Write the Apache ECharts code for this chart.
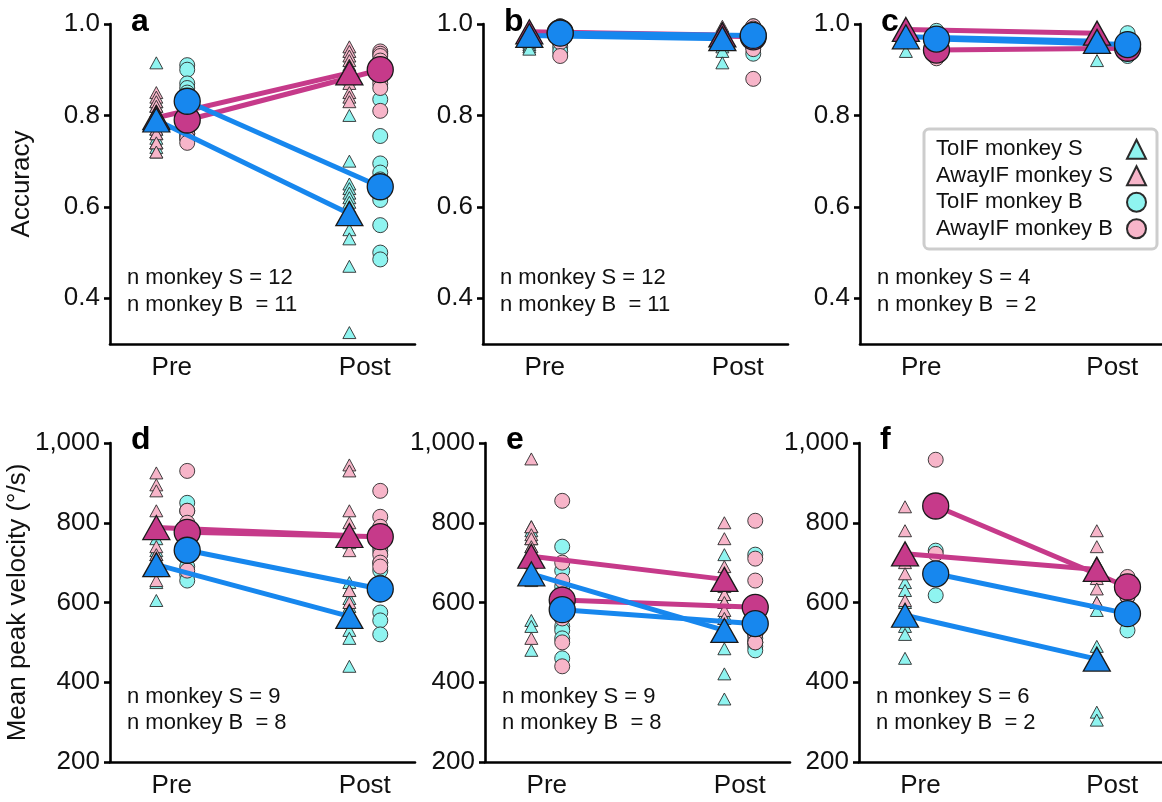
<!DOCTYPE html>
<html>
<head>
<meta charset="utf-8">
<title>Accuracy and peak velocity, Pre vs Post</title>
<script src="https://cdn.jsdelivr.net/npm/echarts@6/dist/echarts.min.js"></script>
<style>
  html, body { margin: 0; padding: 0; background: #ffffff; }
  #chart { width: 1162px; height: 802px; }
</style>
</head>
<body>
<div id="chart"></div>
<script>
// ---- Labels ----
const GROUP_NAMES = ['ToIF monkey S', 'AwayIF monkey S', 'ToIF monkey B', 'AwayIF monkey B'];
const TIME_LABELS = ['Pre', 'Post'];
const ACC_TICKS = [0.4, 0.6, 0.8, 1.0];

// ---- Panel a: accuracy ----
const aToIFS  = { pre: [0.915, 0.83, 0.82, 0.80, 0.78, 0.77, 0.76, 0.75, 0.74, 0.74, 0.73, 0.72],
                  post: [0.80, 0.70, 0.65, 0.64, 0.63, 0.62, 0.61, 0.60, 0.55, 0.53, 0.47, 0.325],
                  mean: [0.79, 0.585] };
const aAwayS  = { pre: [0.85, 0.84, 0.83, 0.82, 0.81, 0.80, 0.79, 0.78, 0.77, 0.76, 0.74, 0.72],
                  post: [0.95, 0.94, 0.93, 0.92, 0.91, 0.90, 0.89, 0.88, 0.87, 0.85, 0.84, 0.83],
                  mean: [0.795, 0.893] };
const aToIFB  = { pre: [0.91, 0.90, 0.87, 0.86, 0.85, 0.84, 0.82, 0.80, 0.77, 0.76, 0.75],
                  post: [0.835, 0.755, 0.695, 0.675, 0.66, 0.645, 0.63, 0.615, 0.56, 0.50, 0.485],
                  mean: [0.831, 0.644] };
const aAwayB  = { pre: [0.84, 0.83, 0.82, 0.81, 0.80, 0.79, 0.78, 0.77, 0.76, 0.75, 0.74],
                  post: [0.94, 0.935, 0.93, 0.92, 0.91, 0.90, 0.89, 0.88, 0.87, 0.86, 0.81],
                  mean: [0.79, 0.90] };

// ---- Panel b: accuracy ----
const bToIFS  = { pre: [0.99, 0.985, 0.98, 0.98, 0.975, 0.97, 0.97, 0.965, 0.96, 0.955, 0.95, 0.945],
                  post: [0.99, 0.985, 0.98, 0.975, 0.97, 0.97, 0.965, 0.96, 0.955, 0.95, 0.94, 0.915],
                  mean: [0.975, 0.968] };
const bAwayS  = { pre: [0.995, 0.99, 0.99, 0.985, 0.985, 0.98, 0.98, 0.98, 0.975, 0.975, 0.97, 0.965],
                  post: [0.995, 0.99, 0.99, 0.985, 0.98, 0.98, 0.975, 0.975, 0.97, 0.97, 0.965, 0.96],
                  mean: [0.983, 0.976] };
const bToIFB  = { pre: [0.995, 0.99, 0.99, 0.985, 0.98, 0.98, 0.975, 0.97, 0.96, 0.95, 0.94],
                  post: [0.995, 0.99, 0.99, 0.985, 0.98, 0.98, 0.975, 0.97, 0.965, 0.95, 0.935],
                  mean: [0.98, 0.975] };
const bAwayB  = { pre: [0.995, 0.99, 0.99, 0.985, 0.985, 0.98, 0.98, 0.975, 0.97, 0.96, 0.93],
                  post: [0.995, 0.99, 0.985, 0.985, 0.98, 0.98, 0.975, 0.97, 0.96, 0.945, 0.88],
                  mean: [0.981, 0.972] };

// ---- Panel c: accuracy ----
const cToIFS  = { pre: [0.99, 0.98, 0.965, 0.94], post: [0.99, 0.975, 0.965, 0.92], mean: [0.972, 0.962] };
const cAwayS  = { pre: [1.0, 0.99, 0.985, 0.975], post: [0.99, 0.985, 0.975, 0.97], mean: [0.988, 0.98] };
const cToIFB  = { pre: [0.985, 0.95], post: [0.98, 0.93], mean: [0.967, 0.955] };
const cAwayB  = { pre: [0.96, 0.925], post: [0.955, 0.94], mean: [0.943, 0.947] };

// ---- Panel d: mean peak velocity ----
const dToIFS  = { pre: [760, 730, 720, 710, 700, 690, 680, 650, 605],
                  post: [650, 630, 610, 590, 570, 550, 530, 510, 440], mean: [695, 565] };
const dAwayS  = { pre: [925, 895, 880, 830, 800, 740, 720, 690, 655],
                  post: [945, 930, 830, 800, 770, 750, 730, 630, 600], mean: [788, 768] };
const dToIFB  = { pre: [850, 830, 750, 730, 710, 690, 670, 655],
                  post: [730, 700, 680, 650, 620, 575, 555, 520], mean: [731, 634] };
const dAwayB  = { pre: [930, 830, 800, 780, 760, 720, 720, 680],
                  post: [880, 815, 790, 760, 740, 720, 700, 690], mean: [776, 765] };

// ---- Panel e: mean peak velocity ----
const eToIFS  = { pre: [790, 780, 760, 740, 700, 655, 555, 540, 480],
                  post: [720, 620, 600, 570, 560, 520, 484, 421, 358], mean: [672, 530] };
const eAwayS  = { pre: [960, 790, 770, 760, 740, 720, 700, 680, 510],
                  post: [800, 760, 690, 660, 640, 620, 600, 580, 560], mean: [716, 658] };
const eToIFB  = { pre: [740, 680, 640, 560, 540, 530, 510, 460],
                  post: [720, 600, 560, 520, 510, 500, 490, 480], mean: [582, 547] };
const eAwayB  = { pre: [855, 700, 655, 620, 580, 560, 500, 440],
                  post: [805, 710, 655, 560, 540, 520, 500, 500], mean: [606, 588] };

// ---- Panel f: mean peak velocity ----
const fToIFS  = { pre: [650, 630, 600, 540, 520, 460], post: [600, 580, 490, 460, 325, 305], mean: [568, 458] };
const fAwayS  = { pre: [840, 780, 720, 700, 672, 605], post: [780, 740, 700, 660, 634, 600], mean: [722, 683] };
const fToIFB  = { pre: [730, 618], post: [614, 530], mean: [672, 572] };
const fAwayB  = { pre: [958, 722], post: [664, 615], mean: [842, 639] };

// ---- Panel definitions ----
const PANELS = [
  { letter: 'a', row: 0, col: 0, groups: [aToIFS, aAwayS, aToIFB, aAwayB], counts: ['n monkey S = 12', 'n monkey B  = 11'] },
  { letter: 'b', row: 0, col: 1, groups: [bToIFS, bAwayS, bToIFB, bAwayB], counts: ['n monkey S = 12', 'n monkey B  = 11'] },
  { letter: 'c', row: 0, col: 2, groups: [cToIFS, cAwayS, cToIFB, cAwayB], counts: ['n monkey S = 4', 'n monkey B  = 2'] },
  { letter: 'd', row: 1, col: 0, groups: [dToIFS, dAwayS, dToIFB, dAwayB], counts: ['n monkey S = 9', 'n monkey B  = 8'] },
  { letter: 'e', row: 1, col: 1, groups: [eToIFS, eAwayS, eToIFB, eAwayB], counts: ['n monkey S = 9', 'n monkey B  = 8'] },
  { letter: 'f', row: 1, col: 2, groups: [fToIFS, fAwayS, fToIFB, fAwayB], counts: ['n monkey S = 6', 'n monkey B  = 2'] }
];

// ---- Layout & style ----
const FONT = 'Liberation Sans, Arial, Helvetica, sans-serif';
const GRID_LEFT = [[110, 483, 860], [110, 485, 859]];
const GRID_TOP = [24, 443];
const GRID_H = [320, 319];
const GRID_W = 305;
const X_POS = [1, 2];           // Pre, Post
const X_MIN = 0.68, X_MAX = 2.26;

const CYAN = '#8ff4f0', PINK = '#f7b5c9', BLUE = '#1787ee', MAGENTA = '#c63a8a';
const GROUP_STYLE = [
  { symbol: 'triangle', light: CYAN, dark: BLUE,    dx: -0.08 },
  { symbol: 'triangle', light: PINK, dark: MAGENTA, dx: -0.08 },
  { symbol: 'circle',   light: CYAN, dark: BLUE,    dx:  0.08 },
  { symbol: 'circle',   light: PINK, dark: MAGENTA, dx:  0.08 }
];

const grids = [], xAxes = [], yAxes = [], series = [], graphics = [];

PANELS.forEach((p, i) => {
  const left = GRID_LEFT[p.row][p.col];
  const top = GRID_TOP[p.row];
  grids.push({ left: left, top: top, width: GRID_W, height: GRID_H[p.row], containLabel: false });

  xAxes.push({
    gridIndex: i, type: 'value', min: X_MIN, max: X_MAX,
    axisLine: { show: true, onZero: false, lineStyle: { color: '#000', width: 2.6 } },
    axisTick: { show: false },
    splitLine: { show: false },
    axisLabel: {
      customValues: X_POS,
      formatter: v => TIME_LABELS[X_POS.indexOf(v)] || '',
      color: '#111', fontSize: 26, fontFamily: FONT, margin: 11
    }
  });

  const accuracy = p.row === 0;
  const yAxis = {
    gridIndex: i, type: 'value',
    axisLine: { show: true, lineStyle: { color: '#000', width: 2.6 } },
    axisTick: { show: true, length: 6, lineStyle: { color: '#000', width: 2.6 } },
    splitLine: { show: false },
    axisLabel: { color: '#111', fontSize: 26, fontFamily: FONT, margin: 10 }
  };
  if (accuracy) {
    yAxis.min = 0.3; yAxis.max = 1.0;
    yAxis.axisLabel.customValues = ACC_TICKS;
    yAxis.axisTick.customValues = ACC_TICKS;
    yAxis.axisLabel.formatter = v => v.toFixed(1);
  } else {
    yAxis.min = 200; yAxis.max = 1000; yAxis.interval = 200;
    yAxis.axisLabel.formatter = v => v.toLocaleString('en-US');
  }
  if (p.col === 0) {
    yAxis.name = accuracy ? 'Accuracy' : 'Mean peak velocity (°/s)';
    yAxis.nameLocation = 'middle';
    yAxis.nameGap = 75;
    yAxis.nameTextStyle = { color: '#111', fontSize: 26, fontFamily: FONT };
  }
  yAxes.push(yAxis);

  // individual sessions
  p.groups.forEach((g, k) => {
    const st = GROUP_STYLE[k];
    series.push({
      type: 'scatter', name: GROUP_NAMES[k], xAxisIndex: i, yAxisIndex: i, z: 2,
      symbol: st.symbol, symbolSize: st.symbol === 'triangle' ? [13, 12] : 15,
      itemStyle: { color: st.light, borderColor: '#2b2b2b', borderWidth: 0.9, opacity: 1 },
      data: g.pre.map(v => [X_POS[0] + st.dx, v]).concat(g.post.map(v => [X_POS[1] + st.dx, v])),
      clip: false, silent: true
    });
  });

  // Pre -> Post lines of the means
  [1, 3, 0, 2].forEach(k => {
    const st = GROUP_STYLE[k], g = p.groups[k];
    series.push({
      type: 'line', name: GROUP_NAMES[k] + ' mean', xAxisIndex: i, yAxisIndex: i, z: 3,
      showSymbol: false, clip: false, silent: true,
      lineStyle: { color: st.dark, width: 5 },
      data: g.mean.map((v, t) => [X_POS[t] + st.dx, v])
    });
  });

  // mean markers
  [1, 3, 0, 2].forEach(k => {
    const st = GROUP_STYLE[k], g = p.groups[k];
    series.push({
      type: 'scatter', name: GROUP_NAMES[k] + ' mean', xAxisIndex: i, yAxisIndex: i, z: 4,
      symbol: st.symbol, symbolSize: st.symbol === 'triangle' ? [27, 24] : 26,
      itemStyle: { color: st.dark, borderColor: '#1a1a1a', borderWidth: 1.3, opacity: 1 },
      data: g.mean.map((v, t) => [X_POS[t] + st.dx, v]),
      clip: false, silent: true
    });
  });

  // panel letter
  graphics.push({
    type: 'text', x: left + 21, y: top + (p.row === 0 ? 14 : 13), z: 1,
    style: { text: p.letter, font: 'bold 32px ' + FONT, fill: '#000', textAlign: 'left', textVerticalAlign: 'bottom' }
  });

  // sample counts
  const ny = p.row === 0 ? [278, 305] : [697, 723];
  p.counts.forEach((t, j) => {
    graphics.push({
      type: 'text', x: left + 17, y: ny[j], z: 5,
      style: { text: t, font: '22px ' + FONT, fill: '#111', textAlign: 'left', textVerticalAlign: 'middle' }
    });
  });
});

const option = {
  animation: false,
  backgroundColor: '#ffffff',
  textStyle: { fontFamily: FONT },
  grid: grids,
  xAxis: xAxes,
  yAxis: yAxes,
  legend: {
    data: GROUP_NAMES,
    orient: 'vertical', left: 924, top: 129,
    align: 'right',
    itemWidth: 19, itemHeight: 19, itemGap: 0,
    padding: [7, 10, 7, 12],
    borderColor: '#cdcdcd', borderWidth: 3, borderRadius: 5,
    backgroundColor: '#ffffff',
    selectedMode: false,
    formatter: name => '{t|' + name + '}',
    textStyle: {
      fontFamily: FONT, fontSize: 22, color: '#111', lineHeight: 26.5,
      rich: { t: { width: 186, lineHeight: 26.5, fontSize: 22, fontFamily: FONT, color: '#111', align: 'left' } }
    }
  },
  graphic: graphics,
  series: series
};

const chart = echarts.init(document.getElementById('chart'), null, { renderer: 'canvas' });
chart.setOption(option);
</script>
</body>
</html>
